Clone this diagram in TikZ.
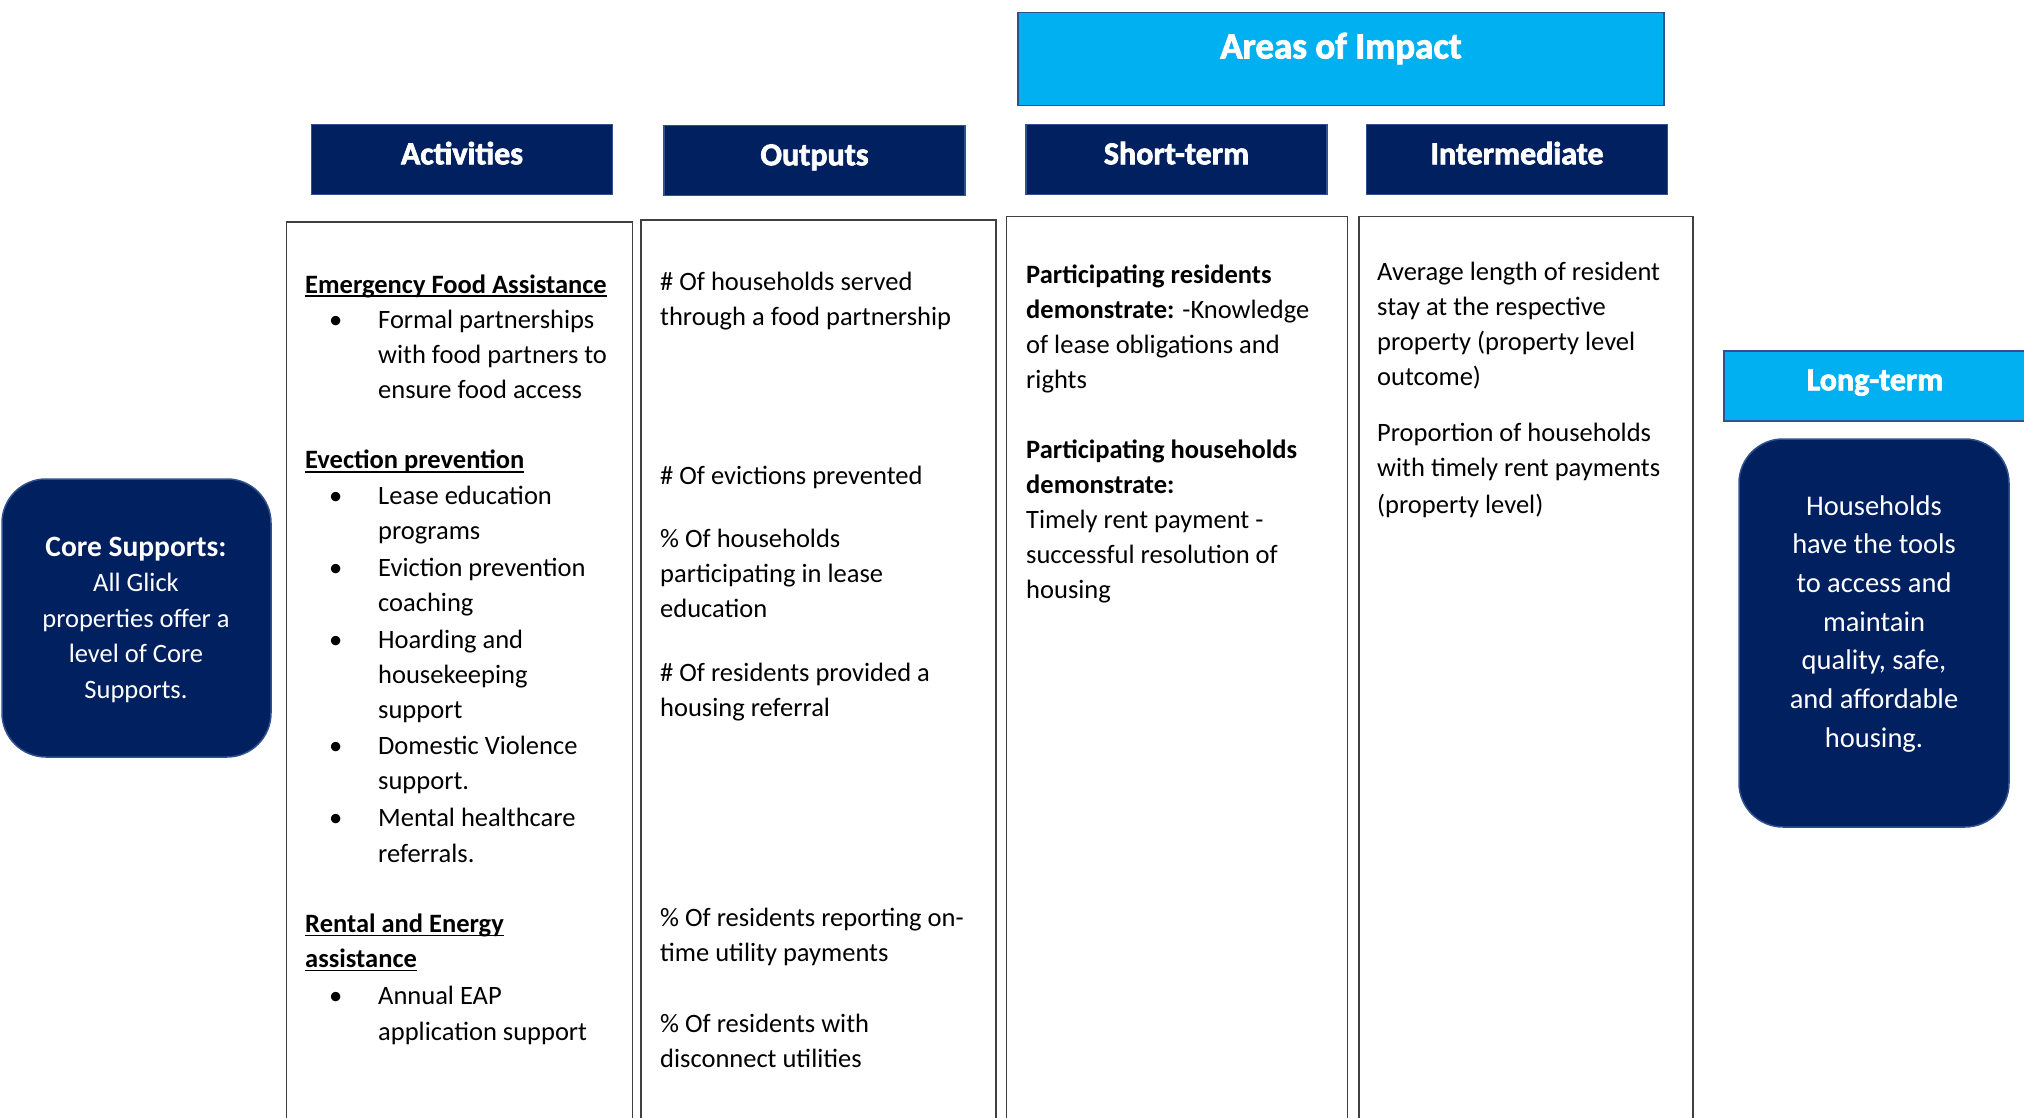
\documentclass[tikz,border=0pt]{standalone}
\usepackage{fontspec}
\setmainfont{Carlito}
\newfontfamily\hdrfont{Carlito}[BoldFeatures={FakeBold=2.2}]
\usetikzlibrary{positioning}
\definecolor{navy}{HTML}{002060}
\definecolor{skyblue}{HTML}{00B0F0}
\definecolor{edgeblue}{HTML}{2F528F}
\newsavebox\ulbox
\newcommand\undl[1]{\sbox\ulbox{#1}\rlap{\rule[-3.5pt]{\wd\ulbox}{1.4pt}}\usebox\ulbox}
\newcommand\blt{\makebox[73pt][l]{\hspace*{24pt}\textbullet}}
\newcommand\llines[1]{\begin{tabular}[t]{@{}l@{}}#1\end{tabular}}
\newcommand\clines[1]{\begin{tabular}[t]{@{}c@{}}#1\end{tabular}}
\tikzstyle{bodytext} = [anchor=base west, inner sep=0pt, text=black,
                        font=\fontsize{26.5}{35.2}\selectfont]

\begin{document}
\begin{tikzpicture}[x=1pt, y=-1pt,
		hdr/.style={
				rectangle,
				draw=edgeblue,
				line width=1.5pt,
				fill=navy,
				text=white,
				minimum width=301pt,
				minimum height=70pt,
				text height=22pt,
				text depth=12.4pt,
				font=\hdrfont\bfseries\fontsize{32}{36}\selectfont,
			},
		colbox/.style={
				rectangle,
				draw=black!75,
				line width=1.5pt,
				inner sep=0pt,
				minimum height=1000pt,
				anchor=north west,
			},
		roundbox/.style={
				rectangle,
				rounded corners=44pt,
				draw=edgeblue,
				line width=1.5pt,
				fill=navy,
			},
		boxtext/.style={
				anchor=base,
				inner sep=0pt,
				text=white,
			}
	]
	\useasboundingbox (0,0) rectangle (2024,1118);
	\clip (0,0) rectangle (2024,1118);

	% Header boxes
	\node[hdr, fill=skyblue, minimum width=646pt, minimum height=93pt, text height=24pt, text depth=25pt,
		font=\hdrfont\bfseries\fontsize{37}{40}\selectfont] (areas) at (1341,59) {Areas of Impact};
	\node[hdr] (activities) at (462,159.5) {Activities};
	\node[hdr] (outputs) at (814.5,160.5) {Outputs};
	\node[hdr] (shortterm) at (1176.5,159.5) {Short-term};
	\node[hdr] (intermediate) at (1517,159.5) {Intermediate};
	\node[hdr, fill=skyblue, minimum width=302pt, text depth=13.4pt] (longterm) at (1875,386) {Long-term};

	% Columns
	\node[colbox, minimum width=346pt] (actcol) at (285.5,221.5) {};
	\node[colbox, minimum width=355pt] (outcol) at (640,219.5) {};
	\node[colbox, minimum width=341pt] (shortcol) at (1005.7,215.7) {};
	\node[colbox, minimum width=334pt] (intercol) at (1358,215.7) {};

	% Core supports
	\node[roundbox, minimum width=269pt, minimum height=278pt] (core) at (136.5,618) {};
	\node[boxtext, font=\fontsize{26.5}{35.5}\selectfont] (coretext) at (136,556)
	{\clines{{\fontsize{29.5}{35.5}\selectfont\textbf{Core Supports:}}\\All Glick\\properties offer a\\level of Core\\Supports.}};

	% Long-term outcome
	\node[roundbox, minimum width=270pt, minimum height=388pt] (longbox) at (1874,633) {};
	\node[boxtext, font=\fontsize{28.5}{38.7}\selectfont] (longtext) at (1874,515)
	{\clines{Households\\have the tools\\to access and\\maintain\\quality, safe,\\and affordable\\housing.}};

	% Activities
	\node[bodytext] (acttext) at (305,293) {
		\begin{tabular}[t]{@{}l@{}l@{}}
			\multicolumn{2}{@{}l@{}}{\undl{\textbf{Emergency Food Assistance}}} \\
			\blt & Formal partnerships                                         \\
			     & with food partners to                                       \\
			     & ensure food access                                          \\
			                                                                   \\
			\multicolumn{2}{@{}l@{}}{\undl{\textbf{Evection prevention}}}       \\
			\blt & Lease education                                             \\
			     & programs                                                    \\[2pt]
			\blt & Eviction prevention                                         \\
			     & coaching                                                    \\[1pt]
			\blt & Hoarding and                                                \\
			     & housekeeping                                                \\
			     & support                                                     \\[1pt]
			\blt & Domestic Violence                                           \\
			     & support.                                                    \\[2pt]
			\blt & Mental healthcare                                           \\
			     & referrals.                                                  \\
			                                                                   \\
			\multicolumn{2}{@{}l@{}}{\undl{\textbf{Rental and Energy}}}         \\
			\multicolumn{2}{@{}l@{}}{\undl{\textbf{assistance}}}                \\[2pt]
			\blt & Annual EAP                                                  \\
			     & application support                                         \\
		\end{tabular}
	};

	% Outputs
	\node[bodytext] (out1) at (660,290) {\llines{\# Of households served\\through a food partnership}};
	\node[bodytext] (out2) at (660,484) {\# Of evictions prevented};
	\node[bodytext] (out3) at (660,547) {\llines{\% Of households\\participating in lease\\education}};
	\node[bodytext] (out4) at (660,681) {\llines{\# Of residents provided a\\housing referral}};
	\node[bodytext] (out5) at (660,926) {\llines{\% Of residents reporting on-\\time utility payments}};
	\node[bodytext] (out6) at (660,1032) {\llines{\% Of residents with\\disconnect utilities}};

	% Short-term
	\node[bodytext] (short1) at (1026,283) {\llines{\textbf{Participating residents}\\\textbf{demonstrate:} -Knowledge\\of lease obligations and\\rights}};
	\node[bodytext] (short2) at (1026,458) {\llines{\textbf{Participating households}\\\textbf{demonstrate:}\\Timely rent payment -\\successful resolution of\\housing}};

	% Intermediate
	\node[bodytext] (inter1) at (1377,280) {\llines{Average length of resident\\stay at the respective\\property (property level\\outcome)}};
	\node[bodytext] (inter2) at (1377,441) {\llines{Proportion of households\\with timely rent payments\\[2pt](property level)}};
\end{tikzpicture}
\end{document}
